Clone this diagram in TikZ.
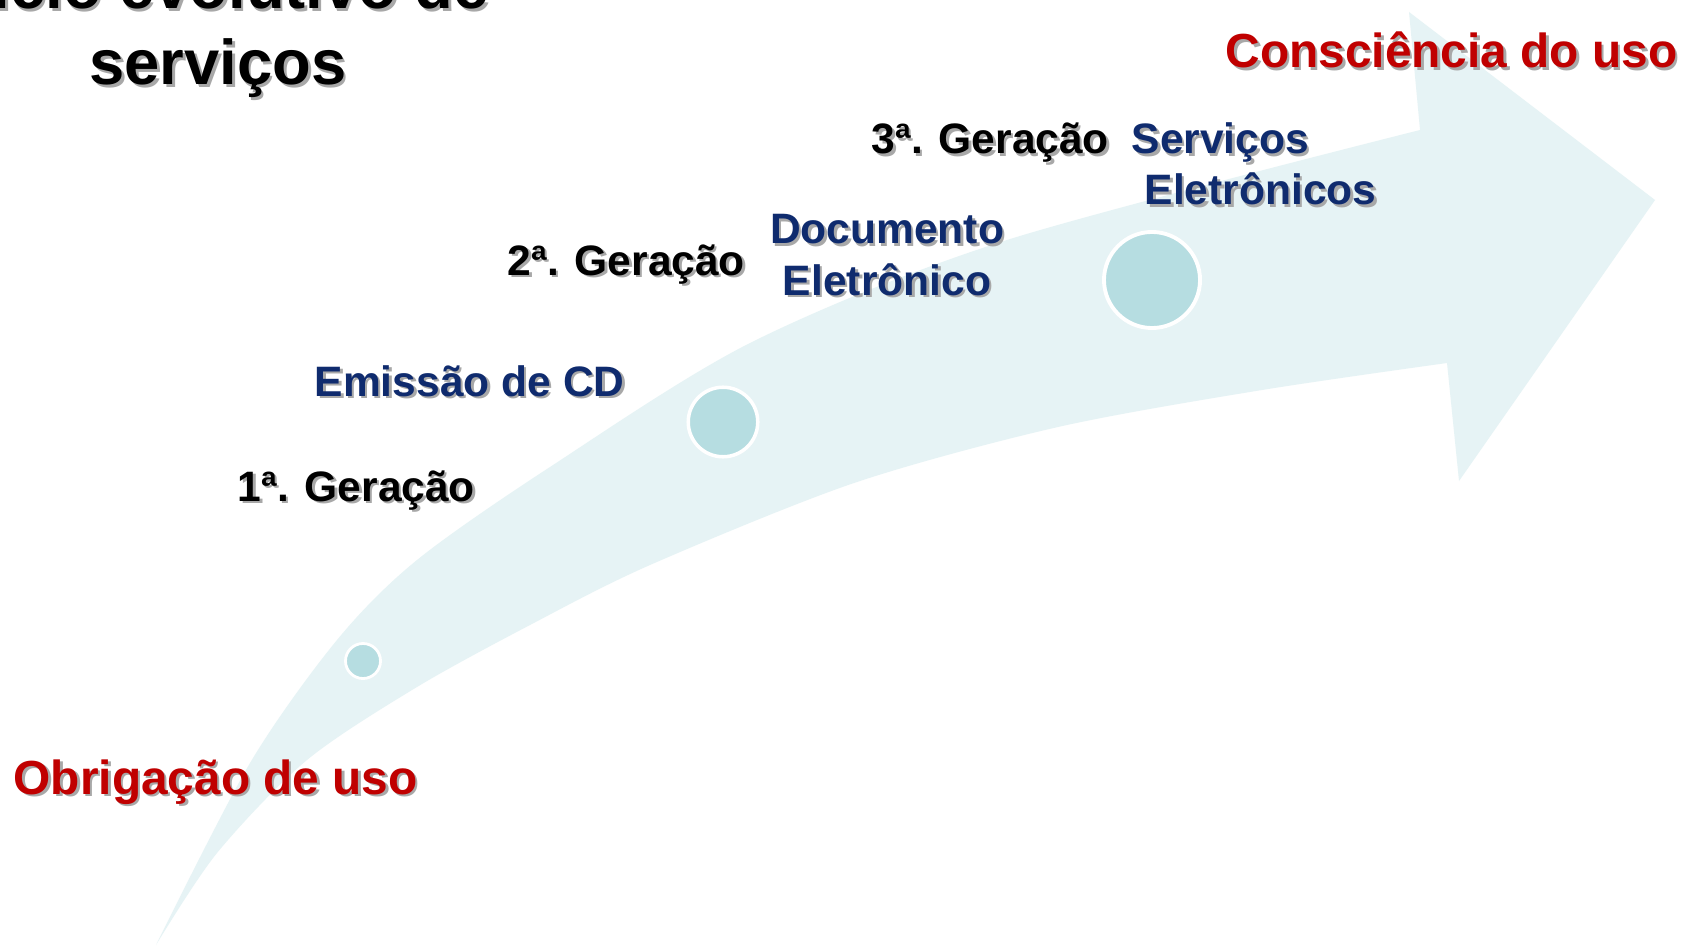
\documentclass[tikz,border=0pt]{standalone}
\usepackage{fontspec}
\setmainfont{Liberation Sans}
\definecolor{arrowfill}{HTML}{E6F3F5}
\definecolor{dotfill}{HTML}{B6DDE1}
\definecolor{redtxt}{HTML}{C00000}
\definecolor{navytxt}{HTML}{0F2B6E}
\definecolor{shadowc}{HTML}{A8A8A8}
\newcommand{\shd}[1]{\leavevmode\rlap{\kern0.7pt\raisebox{-0.7pt}{\textcolor{shadowc}{#1}}}#1}
\begin{document}
\begin{tikzpicture}[x=0.01cm,y=-0.01cm,
  lbl/.style={inner sep=0pt, anchor=base west, font=\bfseries\fontsize{12.1pt}{14pt}\selectfont},
  gen/.style={lbl, text=black},
  stage/.style={lbl, text=navytxt},
  pole/.style={inner sep=0pt, anchor=base west, font=\bfseries\fontsize{13.6pt}{16pt}\selectfont, text=redtxt},
  ttl/.style={inner sep=0pt, anchor=base, font=\bfseries\fontsize{18pt}{21pt}\selectfont, text=black},
  dot/.style={circle, fill=dotfill, draw=white, inner sep=0pt}]
\path[use as bounding box] (0,0) rectangle (1683,946);
\clip (0,0) rectangle (1683,946);
\fill[white] (0,0) rectangle (1683,946);
% curved arrow
\fill[arrowfill] plot[smooth] coordinates {(156,945) (250,763) (337,640) (417,560) (550,467) (752,342) (1007,240) (1420,130)}
  -- (1409,12) -- (1655,200) -- (1459,481) -- (1447,363)
  -- plot[smooth] coordinates {(1447,363) (1262,390) (1058,427) (854,483) (650,565) (530,625) (417,687) (307,760) (217,853) (156,945)} -- cycle;
% circles
\node[dot, line width=0.8pt, minimum size=0.35cm] (c1) at (363,661) {};
\node[dot, line width=1pt, minimum size=0.695cm] (c2) at (723,422) {};
\node[dot, line width=1.1pt, minimum size=0.96cm] (c3) at (1152,280) {};
% title
\node[ttl] (title1) at (218,9) {\shd{Ciclo evolutivo de}};
\node[ttl] (title2) at (218,85) {\shd{serviços}};
% poles
\node[pole] (obrig) at (13,794) {\shd{Obrigação de uso}};
\node[pole] (consc) at (1225,68) {\shd{Consciência do uso}};
% generations
\node[gen] (g1) at (237,501) {\shd{1ª. Geração}};
\node[gen] (g2) at (507,275) {\shd{2ª. Geração}};
\node[gen] (g3) at (871,154) {\shd{3ª. Geração}};
% stages
\node[stage] (s1) at (314,396) {\shd{Emissão de CD}};
\node[stage, anchor=base] (s2a) at (887,244) {\shd{Documento}};
\node[stage, anchor=base] (s2b) at (887,295) {\shd{Eletrônico}};
\node[stage] (s3a) at (1131,154) {\shd{Serviços}};
\node[stage] (s3b) at (1144,205) {\shd{Eletrônicos}};
\end{tikzpicture}
\end{document}
